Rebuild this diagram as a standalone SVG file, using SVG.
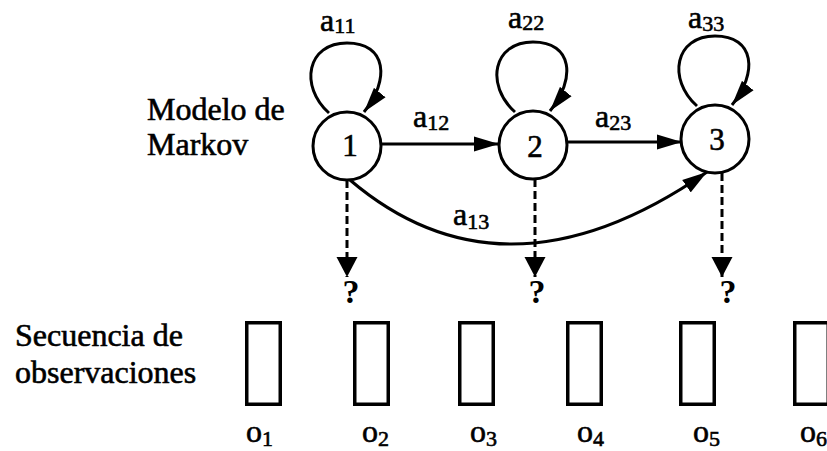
<svg xmlns="http://www.w3.org/2000/svg" width="827" height="451" viewBox="0 0 827 451">
  <style>
    text { font-family: "Liberation Serif", "Times New Roman", serif; fill: #000; stroke: #000; stroke-width: 0.6; }
    .lbl { font-size: 32px; }
    .sub { font-size: 22px; }
    .num { font-size: 31px; text-anchor: middle; }
    .q { font-size: 34px; font-weight: bold; text-anchor: middle; stroke-width: 0; }
    .state { fill: #fff; stroke: #000; stroke-width: 3; }
    .obs { fill: #fff; stroke: #000; stroke-width: 3.5; }
    .edge { fill: none; stroke: #000; stroke-width: 3; marker-end: url(#arrow); }
    .emit { fill: none; stroke: #000; stroke-width: 3; stroke-dasharray: 8 4; marker-end: url(#arrowEmit); }
  </style>
  <defs>
    <marker id="arrow" markerUnits="userSpaceOnUse" markerWidth="26" markerHeight="16" refX="25" refY="8" orient="auto">
      <path d="M0,0.5 L25,8 L0,15.5 z" fill="#000"/>
    </marker>
    <marker id="arrowEmit" markerUnits="userSpaceOnUse" markerWidth="22" markerHeight="22" refX="20" refY="10.5" orient="auto">
      <path d="M0,0 L20,10.5 L0,21 z" fill="#000"/>
    </marker>
  </defs>

  <!-- side captions -->
  <g id="caption-model">
    <text class="lbl" x="147" y="120">Modelo de</text>
    <text class="lbl" x="147" y="155">Markov</text>
  </g>
  <g id="caption-sequence">
    <text class="lbl" x="15" y="346">Secuencia de</text>
    <text class="lbl" x="15" y="383">observaciones</text>
  </g>

  <!-- transitions and emissions -->
  <g id="connectors">
    <!-- self loops -->
    <path class="edge" d="M329,113 C299,86 307,43 347,43 C387,43 390,80 364,112"/>
    <path class="edge" d="M515,112 C485,85 493,42 533,42 C573,42 576,79 550,111"/>
    <path class="edge" d="M697,106 C667,79 675,36 715,36 C755,36 758,73 732,105"/>
    <!-- forward transitions -->
    <path class="edge" d="M381,144 L499,144"/>
    <path class="edge" d="M567,142 L682,142"/>
    <path class="edge" d="M350,180 Q505,312 707,172"/>
    <!-- emissions -->
    <path class="emit" d="M347,180 L347,277"/>
    <path class="emit" d="M535,179 L535,277"/>
    <path class="emit" d="M722,173 L722,277"/>
  </g>

  <!-- transition labels -->
  <g id="labels">
    <text class="lbl" x="320" y="31">a<tspan class="sub" dy="2">11</tspan></text>
    <text class="lbl" x="508" y="28">a<tspan class="sub" dy="2">22</tspan></text>
    <text class="lbl" x="688" y="28">a<tspan class="sub" dy="3">33</tspan></text>
    <text class="lbl" x="413" y="127">a<tspan class="sub" dy="3">12</tspan></text>
    <text class="lbl" x="595" y="127">a<tspan class="sub" dy="3">23</tspan></text>
    <text class="lbl" x="453" y="225">a<tspan class="sub" dy="4">13</tspan></text>
    <text class="q" x="351" y="303">?</text>
    <text class="q" x="537" y="303">?</text>
    <text class="q" x="728" y="303">?</text>
  </g>

  <!-- states -->
  <g id="state-1">
    <circle class="state" cx="347" cy="146" r="34"/>
    <text class="num" x="350" y="156">1</text>
  </g>
  <g id="state-2">
    <circle class="state" cx="533" cy="145" r="34"/>
    <text class="num" x="535" y="157">2</text>
  </g>
  <g id="state-3">
    <circle class="state" cx="715" cy="139" r="34"/>
    <text class="num" x="717" y="150">3</text>
  </g>

  <!-- observation slots -->
  <g id="obs-1">
    <rect class="obs" x="246.75" y="322.75" width="33.5" height="81.5"/>
    <text class="lbl" x="246" y="442">o<tspan class="sub" dy="4">1</tspan></text>
  </g>
  <g id="obs-2">
    <rect class="obs" x="354.75" y="322.75" width="33.5" height="81.5"/>
    <text class="lbl" x="362" y="442">o<tspan class="sub" dy="4">2</tspan></text>
  </g>
  <g id="obs-3">
    <rect class="obs" x="459.75" y="322.75" width="33.5" height="81.5"/>
    <text class="lbl" x="470" y="442">o<tspan class="sub" dy="4">3</tspan></text>
  </g>
  <g id="obs-4">
    <rect class="obs" x="567.75" y="322.75" width="33.5" height="81.5"/>
    <text class="lbl" x="577" y="442">o<tspan class="sub" dy="4">4</tspan></text>
  </g>
  <g id="obs-5">
    <rect class="obs" x="680.75" y="322.75" width="33.5" height="81.5"/>
    <text class="lbl" x="693" y="442">o<tspan class="sub" dy="4">5</tspan></text>
  </g>
  <g id="obs-6">
    <rect class="obs" x="794.75" y="322.75" width="33.5" height="81.5"/>
    <text class="lbl" x="800" y="442">o<tspan class="sub" dy="4">6</tspan></text>
  </g>
</svg>
